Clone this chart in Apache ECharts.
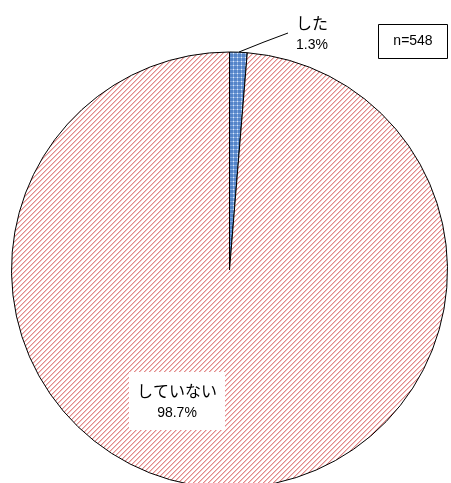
<!DOCTYPE html>
<html><head><meta charset="utf-8">
<script src="https://cdn.jsdelivr.net/npm/echarts@6/dist/echarts.min.js"></script>
<style>html,body{margin:0;padding:0;background:#fff}#c{width:451px;height:483px}</style>
</head><body><div id="c"></div>
<script>
const categories = ['した', 'していない'];
const values = [1.3, 98.7];
const sampleLabel = 'n=548';

function makePattern(w, h, painter) {
  const cv = document.createElement('canvas');
  cv.width = w; cv.height = h;
  const ctx = cv.getContext('2d');
  const img = ctx.createImageData(w, h);
  for (let y = 0; y < h; y++) for (let x = 0; x < w; x++) {
    const c = painter(x, y);
    const i = (y * w + x) * 4;
    img.data[i] = c[0]; img.data[i+1] = c[1]; img.data[i+2] = c[2]; img.data[i+3] = 255;
  }
  ctx.putImageData(img, 0, 0);
  return cv;
}
const redPat = makePattern(5, 5, (x, y) => {
  const k = (x + y) % 5;
  if (k === 0) return [226, 138, 138];
  if (k === 1) return [242, 196, 196];
  return [255, 255, 255];
});
const bluePat = makePattern(4, 4, (x, y) => {
  if (x % 4 === 1 && y % 4 === 1) return [225, 236, 250];
  if ((x % 4 === 1) || (y % 4 === 1)) return [130, 168, 222];
  return [84, 132, 200];
});

const fills = [{image: bluePat, repeat: 'repeat'}, {image: redPat, repeat: 'repeat'}];
const labelPos = [
  {x: 312, y: 34, line: [[239, 52], [264, 42], [288, 33]]},
  {x: 177, y: 401}
];

const chart = echarts.init(document.getElementById('c'), null, {renderer: 'canvas'});
chart.setOption({
  animation: false,
  backgroundColor: '#ffffff',
  graphic: [{
    type: 'group', left: 378, top: 24,
    children: [
      {type: 'rect', shape: {x: 0, y: 0, width: 69, height: 34}, style: {fill: '#fff', stroke: '#000', lineWidth: 1}},
      {type: 'text', style: {x: 34.5, y: 17, text: sampleLabel, align: 'center', verticalAlign: 'middle', font: '14px "Liberation Sans", "Noto Sans CJK JP"', fill: '#000'}}
    ]
  }],
  series: [{
    type: 'pie',
    center: [229.5, 270],
    radius: 218,
    startAngle: 90,
    clockwise: true,
    avoidLabelOverlap: false,
    itemStyle: {borderColor: '#000', borderWidth: 1},
    data: categories.map((n, i) => ({
      name: n, value: values[i],
      itemStyle: {color: fills[i]},
      label: i === 1 ? {backgroundColor: '#fff', padding: [8, 8, 6, 8]} : {},
      labelLine: {show: i === 0}
    })),
    label: {
      show: true,
      position: 'outside',
      formatter: p => '{a|' + p.name + '}\n{b|' + p.value.toFixed(1) + '%}',
      rich: {
        a: {fontSize: 16, fontFamily: '"Noto Sans CJK JP"', color: '#000', lineHeight: 22, align: 'center'},
        b: {fontSize: 14, fontFamily: '"Liberation Sans", "Noto Sans"', color: '#000', lineHeight: 22, align: 'center'}
      }
    },
    labelLine: {lineStyle: {color: '#000', width: 1}},
    labelLayout: function (params) {
      const lp = labelPos[params.dataIndex];
      const r = {x: lp.x, y: lp.y, align: 'center', verticalAlign: 'middle'};
      if (lp.line) r.labelLinePoints = lp.line;
      return r;
    }
  }]
});
</script></body></html>
